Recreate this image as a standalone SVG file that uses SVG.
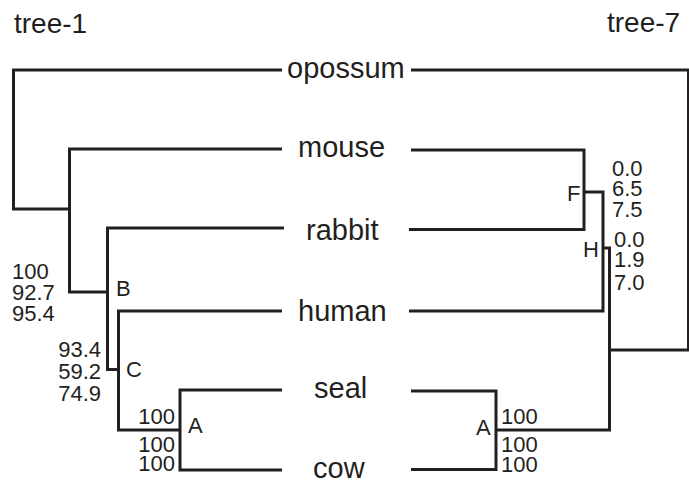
<svg xmlns="http://www.w3.org/2000/svg" width="689" height="483" viewBox="0 0 689 483">
  <style>
    .edge { fill: none; stroke: #231f20; stroke-width: 3; stroke-linejoin: miter; stroke-linecap: butt; }
    text { font-family: "Liberation Sans", Arial, sans-serif; fill: #231f20; }
    .title { font-size: 28px; }
    .taxon { font-size: 29px; }
    .num { font-size: 22px; }
    .end { text-anchor: end; }
  </style>
  <rect width="689" height="483" fill="#ffffff"/>

  <!-- tree headings -->
  <text class="title" x="14" y="33">tree-1</text>
  <text class="title" x="607" y="32">tree-7</text>

  <!-- branches of both trees -->
  <g id="connectors">
    <!-- tree-1 (left) -->
    <path class="edge" d="M282,70 H13.5 V209 H69.5"/>
    <path class="edge" d="M282,149 H69.5 V292 H107.5"/>
    <path class="edge" d="M284,228 H107.5 V369.5 H118.5"/>
    <path class="edge" d="M282,311 H118.5 V430 H180"/>
    <path class="edge" d="M282,390 H180 V470 H282"/>
    <!-- tree-7 (right) -->
    <path class="edge" d="M411,70 H688.5 V350 H609.5"/>
    <path class="edge" d="M411,150 H584 V229.5 H409"/>
    <path class="edge" d="M584,192 H603 V311 H409"/>
    <path class="edge" d="M603,248 H609.5 V430 H496"/>
    <path class="edge" d="M411,391 H496 V469.5 H411"/>
  </g>

  <!-- taxa shared by both trees -->
  <g id="opossum"><text class="taxon" x="287" y="78">opossum</text></g>
  <g id="mouse"><text class="taxon" x="298" y="157">mouse</text></g>
  <g id="rabbit"><text class="taxon" x="306" y="240">rabbit</text></g>
  <g id="human"><text class="taxon" x="298" y="321">human</text></g>
  <g id="seal"><text class="taxon" x="314" y="398">seal</text></g>
  <g id="cow"><text class="taxon" x="313" y="478">cow</text></g>

  <!-- tree-1 internal nodes -->
  <g id="node-B">
    <text class="num" x="12" y="279">100</text>
    <text class="num" x="12" y="300">92.7</text>
    <text class="num" x="12" y="321">95.4</text>
    <text class="num" x="116" y="296">B</text>
  </g>
  <g id="node-C">
    <text class="num end" x="101" y="357">93.4</text>
    <text class="num end" x="101" y="379">59.2</text>
    <text class="num end" x="101" y="401">74.9</text>
    <text class="num" x="126" y="377">C</text>
  </g>
  <g id="node-A-left">
    <text class="num end" x="175" y="424">100</text>
    <text class="num end" x="175" y="452">100</text>
    <text class="num end" x="175" y="471">100</text>
    <text class="num" x="188" y="433">A</text>
  </g>

  <!-- tree-7 internal nodes -->
  <g id="node-F">
    <text class="num" x="612" y="176">0.0</text>
    <text class="num" x="612" y="196">6.5</text>
    <text class="num" x="612" y="217">7.5</text>
    <text class="num" x="567" y="201">F</text>
  </g>
  <g id="node-H">
    <text class="num" x="614" y="247">0.0</text>
    <text class="num" x="614" y="267">1.9</text>
    <text class="num" x="614" y="290">7.0</text>
    <text class="num" x="583" y="257">H</text>
  </g>
  <g id="node-A-right">
    <text class="num" x="501" y="424">100</text>
    <text class="num" x="501" y="452">100</text>
    <text class="num" x="501" y="472">100</text>
    <text class="num" x="476" y="435">A</text>
  </g>
</svg>
